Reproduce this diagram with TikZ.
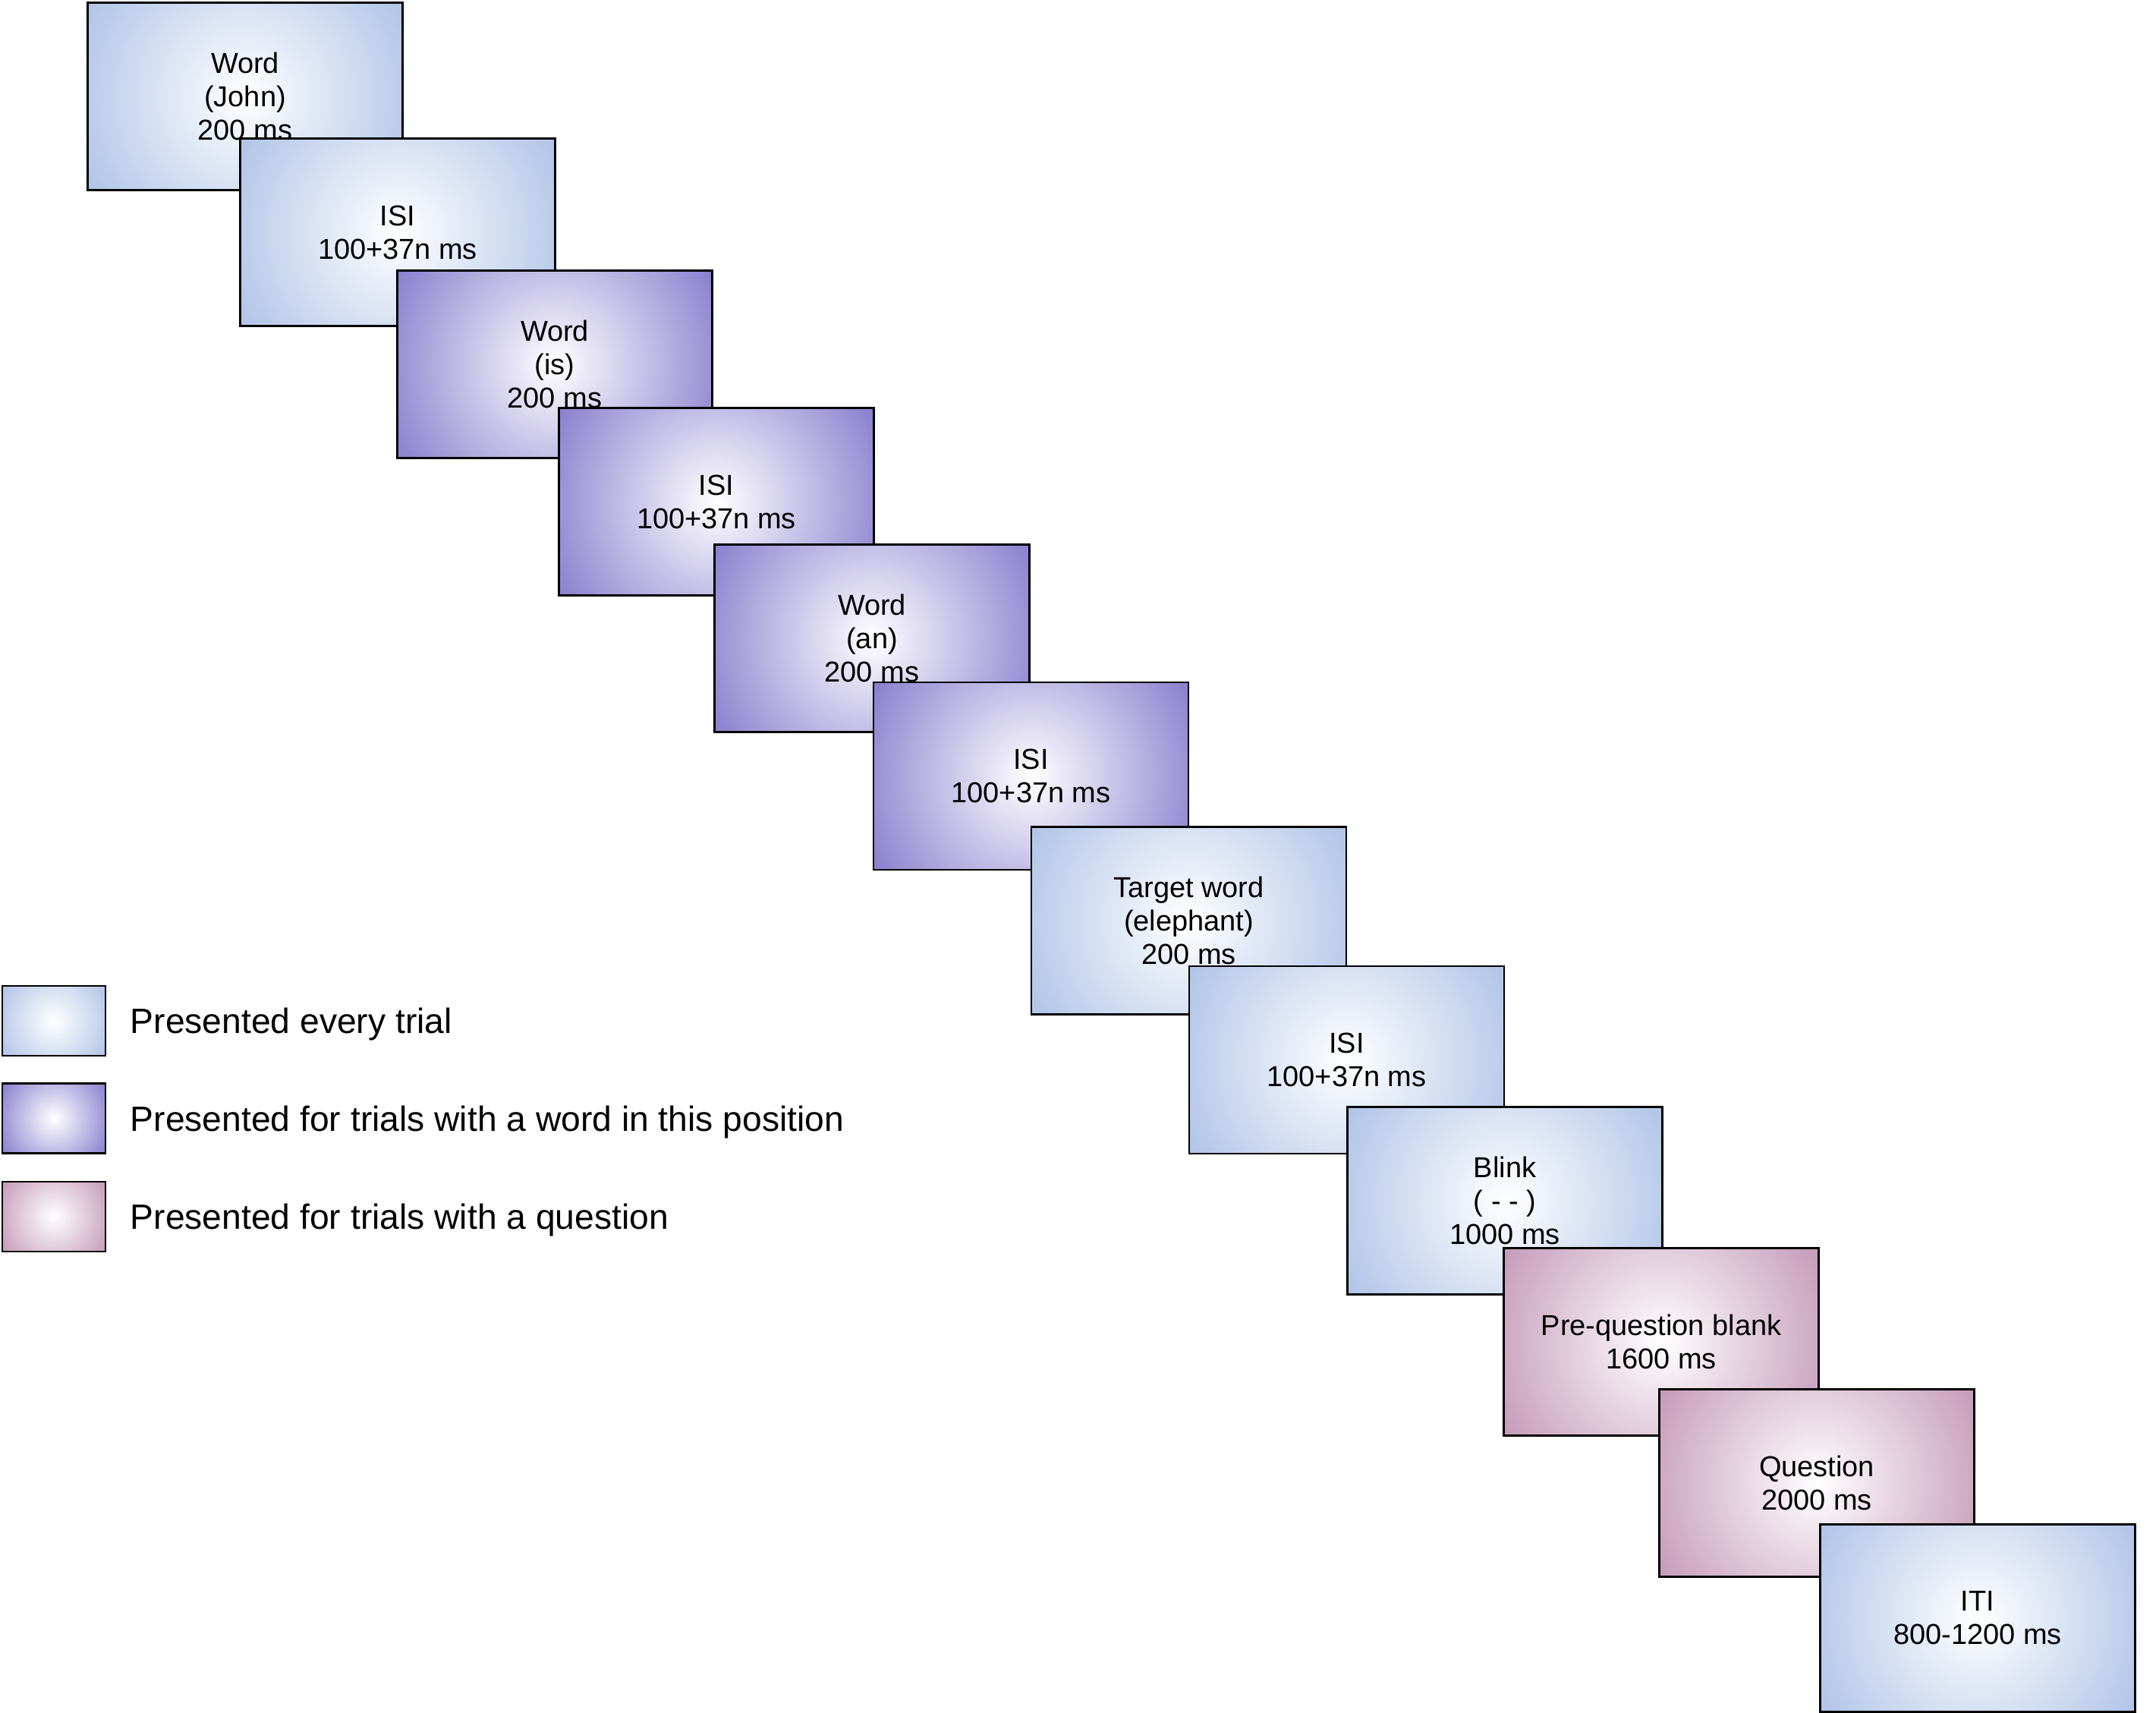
\documentclass[tikz,border=0pt]{standalone}
\usepackage{fontspec}
\setmainfont{Liberation Sans}
\usepackage{tikz}
\usetikzlibrary{positioning}
\definecolor{everyblue}{RGB}{176,196,231}
\definecolor{wordpurple}{RGB}{137,127,206}
\definecolor{questpink}{RGB}{197,155,184}
% white centre, full colour at the corners of a screen (radius 2.41cm)
\pgfdeclareradialshading{blueglow}{\pgfpoint{0bp}{0bp}}{color(0bp)=(white); color(68.3bp)=(everyblue)}
\pgfdeclareradialshading{purpleglow}{\pgfpoint{0bp}{0bp}}{color(0bp)=(white); color(68.3bp)=(wordpurple)}
\pgfdeclareradialshading{pinkglow}{\pgfpoint{0bp}{0bp}}{color(0bp)=(white); color(68.3bp)=(questpink)}
\tikzset{
  glow/.style 2 args={path picture={\node[inner sep=0pt, scale=#2] (glowspot) at (path picture bounding box.center) {\pgfuseshading{#1}};}},
  screen/.style={draw, line width=0.7pt, rectangle, minimum width=4.15cm, minimum height=2.47cm, inner sep=0pt, align=center, font=\fontsize{10.8}{12.5}\selectfont},
  evscreen/.style={screen, glow={blueglow}{1}},
  wdscreen/.style={screen, glow={purpleglow}{1}},
  qscreen/.style={screen, glow={pinkglow}{1}},
  swatch/.style={draw, line width=0.7pt, rectangle, minimum width=1.36cm, minimum height=0.92cm, inner sep=0pt},
  legtext/.style={inner sep=0pt, text height=9.4pt, text depth=0pt, font=\fontsize{13.15}{15.8}\selectfont},
}

\begin{document}
\begin{tikzpicture}
    \useasboundingbox (0,0) rectangle (28.41,-22.56);
    % one screen per event, later screens lie on top
    \node[evscreen] (john)   at (3.23,-1.27)   {Word\\(John)\\200 ms};
    \node[evscreen] (isiA)   at (5.24,-3.06)   {ISI\\100+37n ms};
    \node[wdscreen] (is)     at (7.31,-4.80)   {Word\\(is)\\200 ms};
    \node[wdscreen] (isiB)   at (9.44,-6.61)   {ISI\\100+37n ms};
    \node[wdscreen] (an)     at (11.49,-8.41)  {Word\\(an)\\200 ms};
    \node[wdscreen] (isiC)   at (13.585,-10.225) {ISI\\100+37n ms};
    \node[evscreen] (target) at (15.665,-12.13) {Target word\\(elephant)\\200 ms};
    \node[evscreen] (isiD)   at (17.745,-13.965) {ISI\\100+37n ms};
    \node[evscreen] (blink)  at (19.83,-15.82)  {Blink\\( - - )\\1000 ms};
    \node[qscreen]  (preq)   at (21.89,-17.68)  {Pre-question blank\\1600 ms};
    \node[qscreen]  (quest)  at (23.94,-19.54)  {Question\\2000 ms};
    \node[evscreen] (iti)    at (26.06,-21.32)  {ITI\\800-1200 ms};

    % legend
    \node[swatch, glow={blueglow}{0.34}]   (keyEvery) at (0.71,-13.45) {};
    \node[swatch, glow={purpleglow}{0.34}] (keyWord)  at (0.71,-14.735) {};
    \node[swatch, glow={pinkglow}{0.34}]   (keyQuest) at (0.71,-16.03) {};
    \node[legtext, right=0.31cm of keyEvery] (txtEvery) {Presented every trial};
    \node[legtext, right=0.31cm of keyWord]  (txtWord)  {Presented for trials with a word in this position};
    \node[legtext, right=0.31cm of keyQuest] (txtQuest) {Presented for trials with a question};
\end{tikzpicture}
\end{document}
